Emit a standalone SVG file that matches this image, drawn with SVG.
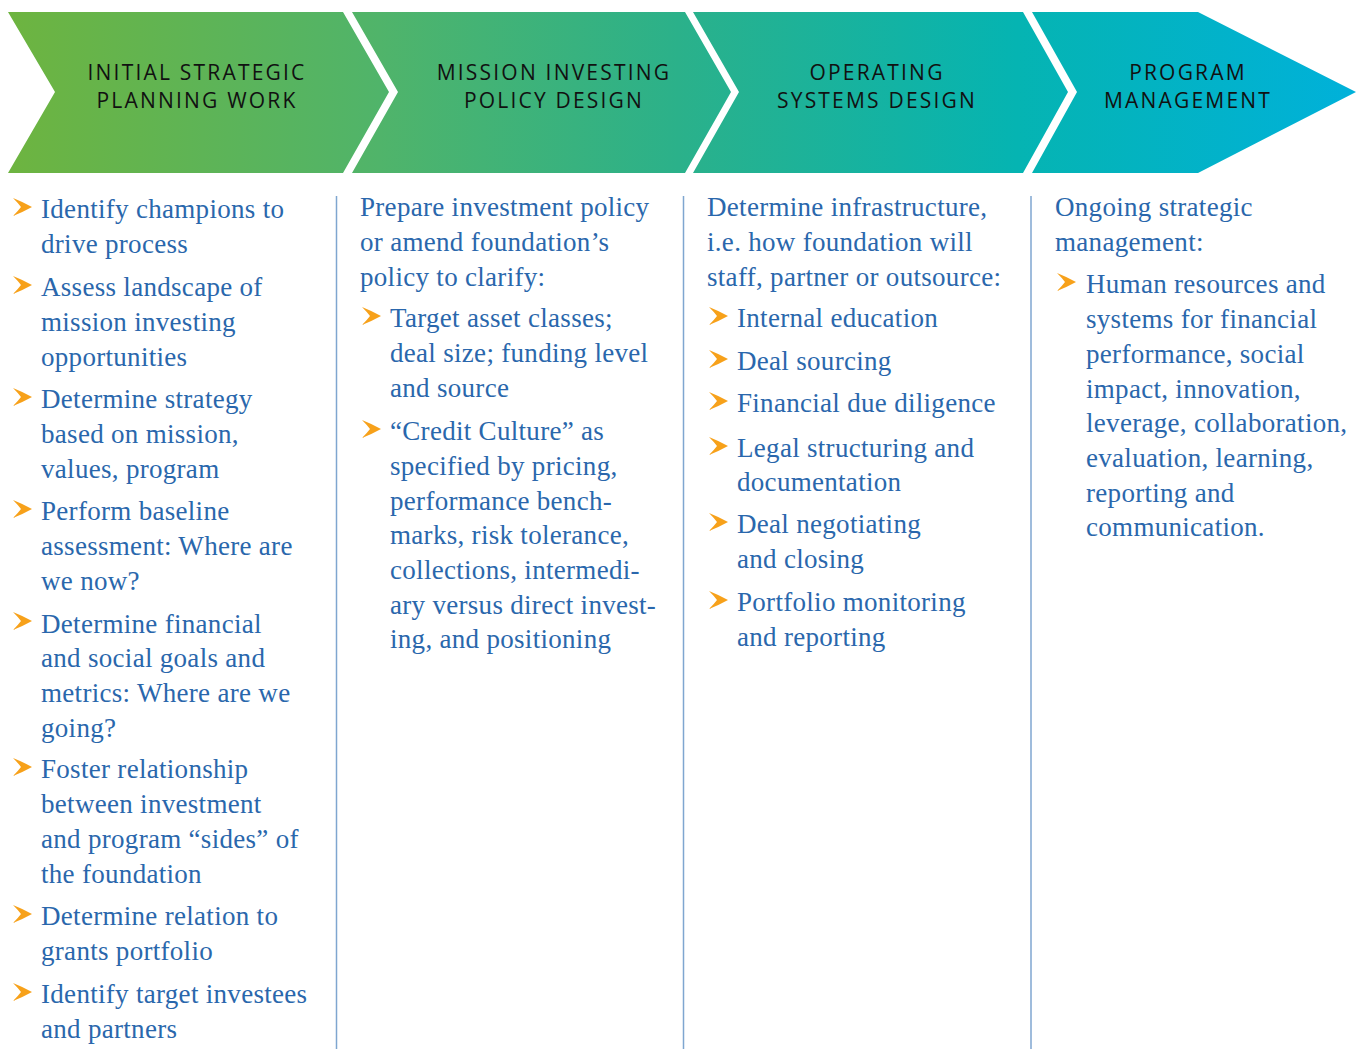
<svg xmlns="http://www.w3.org/2000/svg" xmlns:xlink="http://www.w3.org/1999/xlink" width="1356" height="1049" viewBox="0 0 1356 1049">
<defs>
<linearGradient id="hdr" gradientUnits="userSpaceOnUse" x1="0" y1="0" x2="1356" y2="0">
<stop offset="0" stop-color="#6eb43f"/>
<stop offset="0.28" stop-color="#50b46a"/>
<stop offset="0.5" stop-color="#2bb18a"/>
<stop offset="0.75" stop-color="#05b4b2"/>
<stop offset="1" stop-color="#00b1da"/>
</linearGradient>
<path id="bul" d="M0,0 Q10,4 19,9 Q10,14 0,18 Q5,13 8,9 Q5,5 0,0 Z" fill="#f7a11a"/>
<style>
.hd{font-family:"Open Sans","Liberation Sans",sans-serif;font-size:21px;letter-spacing:2.2px;fill:#111;text-anchor:middle}
.tx{font-family:"Liberation Serif","DejaVu Serif",serif;font-size:27px;letter-spacing:0.3px;fill:#2a67ac}
.dv{stroke:#7fa6d0;stroke-width:1.5}
</style>
</defs>
<rect width="1356" height="1049" fill="#ffffff"/>

<g id="stage1">
<path d="M8,12 L343,12 L389,92 L343,173 L8,173 L55,92 Z" fill="url(#hdr)"/>
<text class="hd" x="197" y="80">INITIAL STRATEGIC</text>
<text class="hd" x="197" y="108">PLANNING WORK</text>
</g>
<g id="stage2">
<path d="M352,12 L685,12 L731,92 L685,173 L352,173 L398,92 Z" fill="url(#hdr)"/>
<text class="hd" x="554" y="80">MISSION INVESTING</text>
<text class="hd" x="554" y="108">POLICY DESIGN</text>
</g>
<g id="stage3">
<path d="M693,12 L1023,12 L1068,92 L1023,173 L693,173 L739,92 Z" fill="url(#hdr)"/>
<text class="hd" x="877" y="80">OPERATING</text>
<text class="hd" x="877" y="108">SYSTEMS DESIGN</text>
</g>
<g id="stage4">
<path d="M1032,12 L1198,12 L1356,92 L1198,173 L1032,173 L1077,92 Z" fill="url(#hdr)"/>
<text class="hd" x="1188" y="80">PROGRAM</text>
<text class="hd" x="1188" y="108">MANAGEMENT</text>
</g>

<g id="dividers">
<line class="dv" x1="336.5" y1="196" x2="336.5" y2="1049"/>
<line class="dv" x1="683.5" y1="196" x2="683.5" y2="1049"/>
<line class="dv" x1="1031" y1="196" x2="1031" y2="1049"/>
</g>

<g id="col1">
<use xlink:href="#bul" x="13" y="198"/>
<text class="tx" x="41" y="218">Identify champions to</text>
<text class="tx" x="41" y="253">drive process</text>
<use xlink:href="#bul" x="13" y="276"/>
<text class="tx" x="41" y="296">Assess landscape of</text>
<text class="tx" x="41" y="331">mission investing</text>
<text class="tx" x="41" y="366">opportunities</text>
<use xlink:href="#bul" x="13" y="388"/>
<text class="tx" x="41" y="408">Determine strategy</text>
<text class="tx" x="41" y="443">based on mission,</text>
<text class="tx" x="41" y="478">values, program</text>
<use xlink:href="#bul" x="13" y="500"/>
<text class="tx" x="41" y="520">Perform baseline</text>
<text class="tx" x="41" y="555">assessment: Where are</text>
<text class="tx" x="41" y="590">we now?</text>
<use xlink:href="#bul" x="13" y="612"/>
<text class="tx" x="41" y="633">Determine financial</text>
<text class="tx" x="41" y="667">and social goals and</text>
<text class="tx" x="41" y="702">metrics: Where are we</text>
<text class="tx" x="41" y="737">going?</text>
<use xlink:href="#bul" x="13" y="758"/>
<text class="tx" x="41" y="778">Foster relationship</text>
<text class="tx" x="41" y="813">between investment</text>
<text class="tx" x="41" y="848">and program “sides” of</text>
<text class="tx" x="41" y="883">the foundation</text>
<use xlink:href="#bul" x="13" y="905"/>
<text class="tx" x="41" y="925">Determine relation to</text>
<text class="tx" x="41" y="960">grants portfolio</text>
<use xlink:href="#bul" x="13" y="983"/>
<text class="tx" x="41" y="1003">Identify target investees</text>
<text class="tx" x="41" y="1038">and partners</text>
</g>

<g id="col2">
<text class="tx" x="360" y="216">Prepare investment policy</text>
<text class="tx" x="360" y="251">or amend foundation’s</text>
<text class="tx" x="360" y="286">policy to clarify:</text>
<use xlink:href="#bul" x="362" y="307"/>
<text class="tx" x="390" y="327">Target asset classes;</text>
<text class="tx" x="390" y="362">deal size; funding level</text>
<text class="tx" x="390" y="397">and source</text>
<use xlink:href="#bul" x="362" y="420"/>
<text class="tx" x="390" y="440">“Credit Culture” as</text>
<text class="tx" x="390" y="475">specified by pricing,</text>
<text class="tx" x="390" y="510">performance bench-</text>
<text class="tx" x="390" y="544">marks, risk tolerance,</text>
<text class="tx" x="390" y="579">collections, intermedi-</text>
<text class="tx" x="390" y="614">ary versus direct invest-</text>
<text class="tx" x="390" y="648">ing, and positioning</text>
</g>

<g id="col3">
<text class="tx" x="707" y="216">Determine infrastructure,</text>
<text class="tx" x="707" y="251">i.e. how foundation will</text>
<text class="tx" x="707" y="286">staff, partner or outsource:</text>
<use xlink:href="#bul" x="709" y="307"/>
<text class="tx" x="737" y="327">Internal education</text>
<use xlink:href="#bul" x="709" y="350"/>
<text class="tx" x="737" y="370">Deal sourcing</text>
<use xlink:href="#bul" x="709" y="392"/>
<text class="tx" x="737" y="412">Financial due diligence</text>
<use xlink:href="#bul" x="709" y="437"/>
<text class="tx" x="737" y="457">Legal structuring and</text>
<text class="tx" x="737" y="491">documentation</text>
<use xlink:href="#bul" x="709" y="513"/>
<text class="tx" x="737" y="533">Deal negotiating</text>
<text class="tx" x="737" y="568">and closing</text>
<use xlink:href="#bul" x="709" y="591"/>
<text class="tx" x="737" y="611">Portfolio monitoring</text>
<text class="tx" x="737" y="646">and reporting</text>
</g>

<g id="col4">
<text class="tx" x="1055" y="216">Ongoing strategic</text>
<text class="tx" x="1055" y="251">management:</text>
<use xlink:href="#bul" x="1057" y="273"/>
<text class="tx" x="1086" y="293">Human resources and</text>
<text class="tx" x="1086" y="328">systems for financial</text>
<text class="tx" x="1086" y="363">performance, social</text>
<text class="tx" x="1086" y="398">impact, innovation,</text>
<text class="tx" x="1086" y="432">leverage, collaboration,</text>
<text class="tx" x="1086" y="467">evaluation, learning,</text>
<text class="tx" x="1086" y="502">reporting and</text>
<text class="tx" x="1086" y="536">communication.</text>
</g>
</svg>
